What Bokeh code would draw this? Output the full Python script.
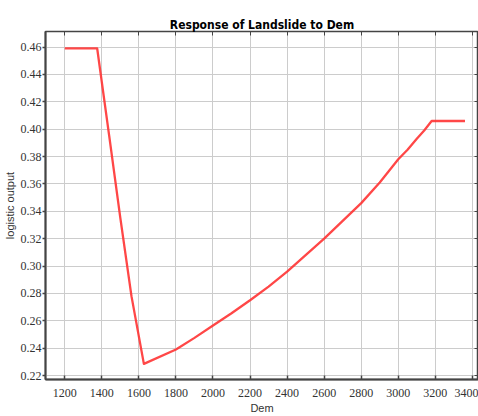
from bokeh.plotting import figure
from bokeh.models import LinearAxis, FixedTicker, Range1d, NumeralTickFormatter
from bokeh.embed import file_html
from bokeh.resources import INLINE

# Data
dem = [1200, 1375, 1440, 1500, 1560, 1627, 1800, 1900, 2000, 2100, 2200, 2300,
       2400, 2500, 2600, 2700, 2800, 2900, 3000, 3050, 3100, 3140, 3180, 3360]
logistic_output = [0.459, 0.459, 0.395, 0.335, 0.278, 0.2285, 0.239, 0.2475,
                   0.2565, 0.2655, 0.275, 0.285, 0.296, 0.308, 0.320, 0.333, 0.346, 0.361,
                   0.378, 0.385, 0.393, 0.399, 0.406, 0.406]
x_ticks = [1200, 1400, 1600, 1800, 2000, 2200, 2400, 2600, 2800, 3000, 3200, 3400]
y_ticks = [0.22, 0.24, 0.26, 0.28, 0.30, 0.32, 0.34, 0.36, 0.38, 0.40, 0.42, 0.44, 0.46]

TICK_FONT = "Liberation Sans Narrow"
AXIS_COLOR = "#444444"

p = figure(width=478, height=416, output_backend="svg", toolbar_location=None,
           x_range=Range1d(1096, 3433), y_range=Range1d(0.2171, 0.4714),
           title="Response of Landslide to Dem",
           min_border_left=45, min_border_right=0, min_border_top=31, min_border_bottom=0)

p.title.align = "center"
p.title.text_font = "DejaVu Sans Condensed"
p.title.text_font_size = "12px"
p.title.text_font_style = "bold"
p.title.text_color = "#000000"
p.title.offset = 48
p.title.standoff = 0

p.line(dem, logistic_output, line_color="#ff3333", line_width=2.3, line_alpha=0.9,
       line_join="round")

p.background_fill_color = "white"
p.border_fill_color = "white"
p.outline_line_color = AXIS_COLOR
p.outline_line_width = 1.5

for ax in p.xaxis:
    ax.ticker = FixedTicker(ticks=x_ticks)
    ax.axis_label = "Dem"
for ax in p.yaxis:
    ax.ticker = FixedTicker(ticks=y_ticks)
    ax.formatter = NumeralTickFormatter(format="0.00")
    ax.axis_label = "logistic output"

for ax in list(p.xaxis) + list(p.yaxis):
    ax.major_label_text_font = TICK_FONT
    ax.major_label_text_font_size = "12px"
    ax.major_label_text_color = "#333333"
    ax.axis_label_text_font = "Liberation Sans"
    ax.axis_label_text_font_size = "11px"
    ax.axis_label_text_font_style = "normal"
    ax.axis_label_text_color = "#333333"
    ax.axis_line_color = AXIS_COLOR
    ax.axis_line_width = 2
    ax.major_tick_line_color = AXIS_COLOR
    ax.major_tick_line_width = 1.5
    ax.minor_tick_line_color = None

p.xaxis.major_tick_in = 4
p.xaxis.major_tick_out = 0
p.xaxis.major_label_standoff = 9
p.xaxis.axis_label_standoff = 2
p.yaxis.major_tick_in = 0
p.yaxis.major_tick_out = 3
p.yaxis.major_label_standoff = 1
p.yaxis.axis_label_standoff = 2

top = LinearAxis(ticker=FixedTicker(ticks=x_ticks), major_label_text_font_size="0px",
                 major_tick_in=4, major_tick_out=0, axis_line_color=AXIS_COLOR,
                 major_tick_line_color=AXIS_COLOR, minor_tick_line_color=None,
                 major_label_standoff=0, axis_label_standoff=0)
top.major_label_text_alpha = 0
p.add_layout(top, "above")

right = LinearAxis(ticker=FixedTicker(ticks=y_ticks), major_label_text_font_size="0px",
                   major_tick_in=4, major_tick_out=0, axis_line_color=AXIS_COLOR,
                   major_tick_line_color=AXIS_COLOR, minor_tick_line_color=None,
                   major_label_standoff=0, axis_label_standoff=0)
right.major_label_text_alpha = 0
p.add_layout(right, "right")

p.xgrid.ticker = FixedTicker(ticks=x_ticks)
p.ygrid.ticker = FixedTicker(ticks=y_ticks)
p.grid.grid_line_color = "#cccccc"
p.grid.grid_line_width = 1

open("out.html", "w").write(file_html(p, INLINE))
